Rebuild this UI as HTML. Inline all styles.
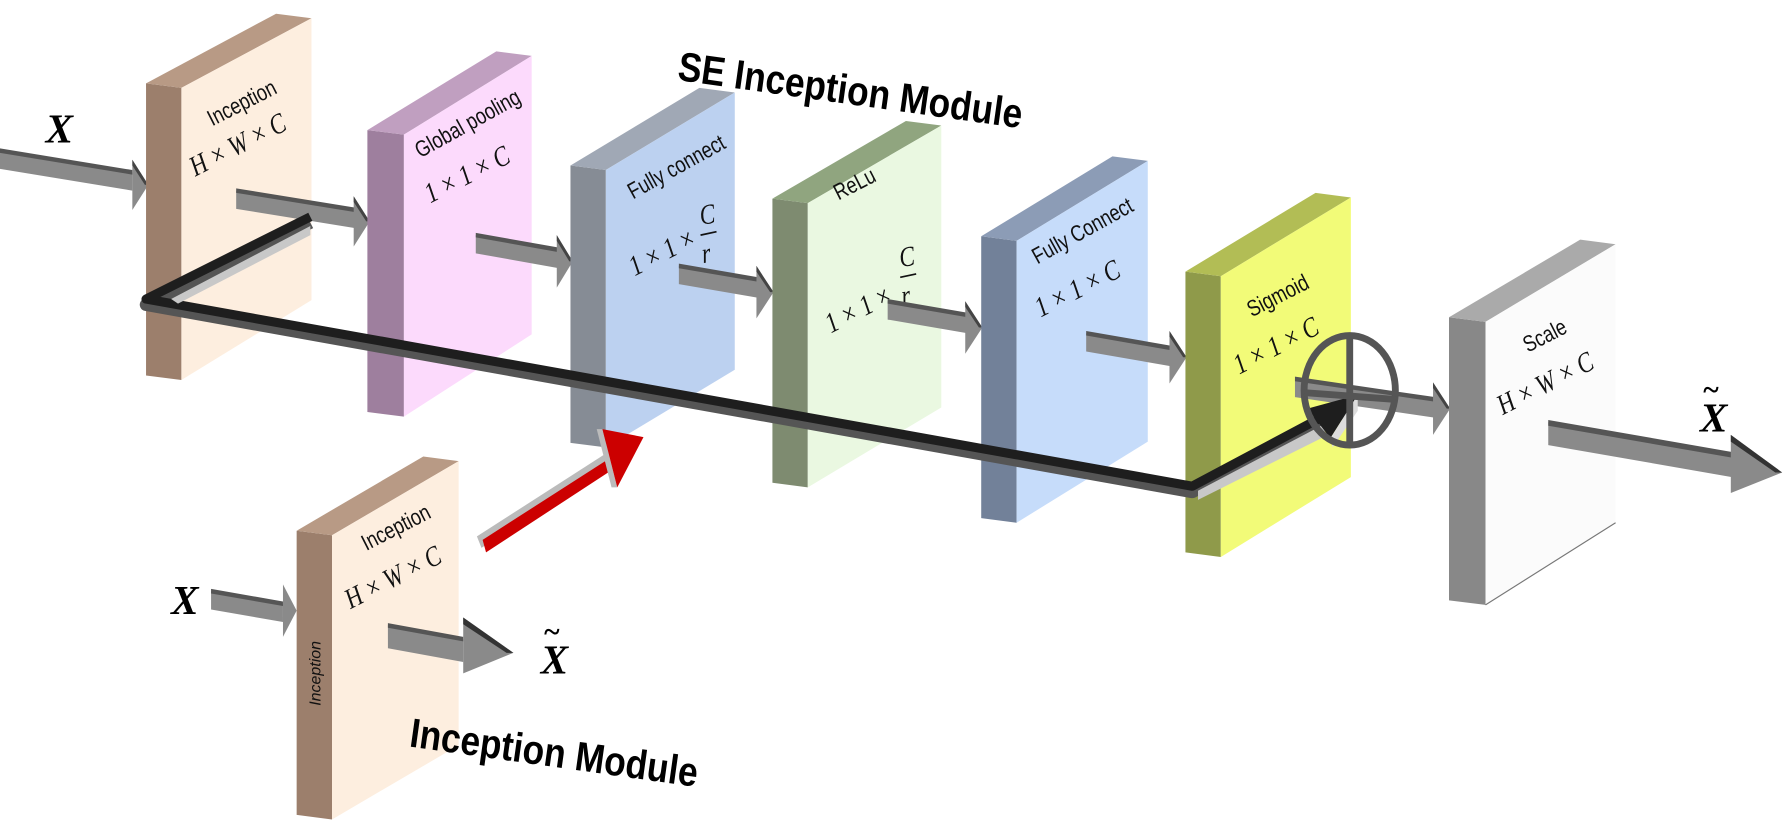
<!DOCTYPE html>
<html><head><meta charset="utf-8"><style>
html,body{margin:0;padding:0;background:#fff;}
svg{display:block}
.lb{font-family:"Liberation Sans Narrow","Liberation Sans",sans-serif;font-size:20px;fill:#111}
.mt{font-family:"Liberation Serif",serif;font-style:italic;font-size:25px;fill:#111}
.big{font-family:"Liberation Sans",sans-serif;font-weight:bold;font-size:36px;fill:#000}
.X{font-family:"Liberation Serif",serif;font-style:italic;font-weight:bold;font-size:36px;fill:#000}
</style></head><body>
<svg width="1789" height="840" viewBox="0 0 1568 736" preserveAspectRatio="none" xmlns="http://www.w3.org/2000/svg">

<!-- Input arrow X -->
<polygon points="0,132 116,151 116,167 0,148" fill="#8a8a8a"/>
<polygon points="0,130 116,149 116,153 0,134" fill="#555"/>
<polygon points="116,140 130,162 116,184" fill="#8a8a8a"/>
<polygon points="116,140 130,162 127,162 116,145" fill="#444"/>

<!-- Inception 1 -->
<polygon points="128,73 159,77 159,333 128,329" fill="#9c7f6c"/>
<polygon points="128,73 242,12 273,16 159,77" fill="#b89a85"/>
<polygon points="159,77 273,16 273,263 159,333" fill="#fdeedf"/>
<text class="lb" transform="translate(215,96) rotate(-27) scale(0.8,1)" text-anchor="middle">Inception</text>
<text class="mt" transform="translate(212,134) rotate(-27) scale(0.8,1)" text-anchor="middle">H × W × C</text>

<!-- arrow 2 -->
<polygon points="207,167 312,184 312,200 207,183" fill="#8a8a8a"/>
<polygon points="207,165 312,182 312,186 207,169" fill="#555"/>
<polygon points="310,172 324,194 310,216" fill="#8a8a8a"/>
<polygon points="310,172 324,194 321,194 310,177" fill="#444"/>

<!-- Global pooling -->
<polygon points="322,114 354,118 354,365 322,361" fill="#9e7f9e"/>
<polygon points="322,114 435,45 466,49 354,118" fill="#c09fc0"/>
<polygon points="354,118 466,49 466,293 354,365" fill="#fcdafc"/>
<text class="lb" transform="translate(413,114) rotate(-29) scale(0.8,1)" text-anchor="middle">Global pooling</text>
<text class="mt" transform="translate(413,160) rotate(-27) scale(0.8,1)" text-anchor="middle">1 × 1 × C</text>

<!-- arrow 3 -->
<polygon points="417,206 490,219 490,235 417,222" fill="#8a8a8a"/>
<polygon points="417,204 490,217 490,221 417,208" fill="#555"/>
<polygon points="488,206 502,229 488,252" fill="#8a8a8a"/>
<polygon points="488,206 502,229 499,229 488,211" fill="#444"/>

<!-- FC1 -->
<polygon points="500,145 531,149 531,392 500,388" fill="#868c95"/>
<polygon points="500,145 613,77 644,81 531,149" fill="#a0a8b5"/>
<polygon points="531,149 644,81 644,324 531,392" fill="#bcd1f0"/>
<text class="lb" transform="translate(596,152) rotate(-29) scale(0.8,1)" text-anchor="middle">Fully connect</text>
<text class="mt" transform="translate(584,228) rotate(-27) scale(0.8,1)" text-anchor="middle">1 × 1 ×</text>
<text class="mt" transform="translate(621,196) rotate(-8) scale(0.8,1)" text-anchor="middle">C</text>
<line x1="614" y1="206" x2="628" y2="203" stroke="#111" stroke-width="1.5"/>
<text class="mt" transform="translate(620,230) rotate(-8) scale(0.8,1)" text-anchor="middle">r</text>

<!-- arrow 4 -->
<polygon points="595,233 665,245 665,261 595,249" fill="#8a8a8a"/>
<polygon points="595,231 665,243 665,247 595,235" fill="#555"/>
<polygon points="663,233 678,256 663,279" fill="#8a8a8a"/>
<polygon points="663,233 678,256 675,256 663,238" fill="#444"/>

<!-- ReLu -->
<polygon points="677,174 708,178 708,427 677,423" fill="#7e8b70"/>
<polygon points="677,174 794,106 825,110 708,178" fill="#90a57f"/>
<polygon points="708,178 825,110 825,357 708,427" fill="#eaf8e1"/>
<text class="lb" transform="translate(752,167) rotate(-27) scale(0.8,1)" text-anchor="middle">ReLu</text>
<text class="mt" transform="translate(756,278) rotate(-27) scale(0.8,1)" text-anchor="middle">1 × 1 ×</text>
<text class="mt" transform="translate(796,233) rotate(-8) scale(0.8,1)" text-anchor="middle">C</text>
<line x1="789" y1="243" x2="803" y2="240" stroke="#111" stroke-width="1.5"/>
<text class="mt" transform="translate(795,267) rotate(-8) scale(0.8,1)" text-anchor="middle">r</text>

<!-- arrow 5 -->
<polygon points="778,264 848,276 848,292 778,280" fill="#8a8a8a"/>
<polygon points="778,262 848,274 848,278 778,266" fill="#555"/>
<polygon points="846,264 861,287 846,310" fill="#8a8a8a"/>
<polygon points="846,264 861,287 858,287 846,269" fill="#444"/>

<!-- FC2 -->
<polygon points="860,207 891,211 891,458 860,454" fill="#728199"/>
<polygon points="860,207 975,137 1006,141 891,211" fill="#8c9cb6"/>
<polygon points="891,211 1006,141 1006,387 891,458" fill="#c6dcfa"/>
<text class="lb" transform="translate(952,208) rotate(-29) scale(0.8,1)" text-anchor="middle">Fully Connect</text>
<text class="mt" transform="translate(948,260) rotate(-27) scale(0.8,1)" text-anchor="middle">1 × 1 × C</text>

<!-- arrow 6 -->
<polygon points="952,292 1027,305 1027,321 952,308" fill="#8a8a8a"/>
<polygon points="952,290 1027,303 1027,307 952,294" fill="#555"/>
<polygon points="1025,290 1040,313 1025,336" fill="#8a8a8a"/>
<polygon points="1025,290 1040,313 1037,313 1025,295" fill="#444"/>

<!-- Sigmoid -->
<polygon points="1039,238 1070,242 1070,488 1039,484" fill="#8f9a4a"/>
<polygon points="1039,238 1153,169 1184,173 1070,242" fill="#b2bd55"/>
<polygon points="1070,242 1184,173 1184,418 1070,488" fill="#f2fb78"/>
<text class="lb" transform="translate(1123,265) rotate(-27) scale(0.8,1)" text-anchor="middle">Sigmoid</text>
<text class="mt" transform="translate(1122,310) rotate(-27) scale(0.8,1)" text-anchor="middle">1 × 1 × C</text>

<!-- arrow 7 through circle -->
<polygon points="1135,332 1258,350 1258,366 1135,348" fill="#8a8a8a"/>
<polygon points="1135,330 1258,348 1258,352 1135,334" fill="#555"/>
<polygon points="1256,335 1271,358 1256,381" fill="#8a8a8a"/>
<polygon points="1256,335 1271,358 1268,358 1256,340" fill="#444"/>

<!-- Scale -->
<polygon points="1270,278 1302,282 1302,530 1270,526" fill="#888"/>
<polygon points="1270,278 1385,210 1416,214 1302,282" fill="#aaa"/>
<polygon points="1302,282 1416,214 1416,458 1302,530" fill="#fbfbfb"/>
<line x1="1302" y1="530" x2="1416" y2="458" stroke="#777" stroke-width="1"/>
<text class="lb" transform="translate(1357,300) rotate(-27) scale(0.8,1)" text-anchor="middle">Scale</text>
<text class="mt" transform="translate(1358,343) rotate(-27) scale(0.8,1)" text-anchor="middle">H × W × C</text>

<!-- output arrow -->
<polygon points="1357,370 1518,398 1518,418 1357,390" fill="#8a8a8a"/>
<polygon points="1357,368 1518,396 1518,401 1357,373" fill="#555"/>
<polygon points="1517,381 1562,414 1517,432" fill="#8a8a8a"/>
<polygon points="1517,381 1562,414 1556,414 1517,387" fill="#333"/>
<text class="X" x="1490" y="378">X</text>
<text class="X" x="1492" y="350" style="font-size:26px">~</text>

<!-- Skip black line -->
<polyline points="272,190 128,262 1045,426 1184,352" fill="none" stroke="#555" stroke-width="11" stroke-linejoin="round" transform="translate(0,5)"/>
<polyline points="272,190 128,262 1045,426 1184,352" fill="none" stroke="#1e1e1e" stroke-width="8" stroke-linejoin="round"/>
<polygon points="150,262 272,198 272,206 156,266" fill="#c8c8c8"/>
<polygon points="1050,430 1160,372 1162,382 1050,438" fill="#c8c8c8"/>
<polygon points="1146,358 1190,346 1166,384" fill="#1e1e1e"/>
<polygon points="1166,384 1190,346 1190,360 1168,392" fill="#ddd"/>

<!-- circle -->
<ellipse cx="1183" cy="342" rx="40" ry="48" fill="none" stroke="#555" stroke-width="6"/>
<line x1="1183" y1="294" x2="1183" y2="390" stroke="#555" stroke-width="6"/>
<line x1="1143" y1="344" x2="1223" y2="350" stroke="#555" stroke-width="6"/>

<!-- SE title -->
<text class="big" transform="translate(593,70) rotate(8) scale(0.86,1)">SE Inception Module</text>

<!-- Inception 2 -->
<polygon points="185,518 248,529 248,545 185,534" fill="#8a8a8a"/>
<polygon points="185,516 248,527 248,531 185,520" fill="#555"/>
<polygon points="248,512 260,535 248,558" fill="#8a8a8a"/>
<text class="X" x="150" y="538">X</text>

<polygon points="260,465 291,469 291,718 260,714" fill="#9c7f6c"/>
<polygon points="260,465 371,400 402,404 291,469" fill="#b89a85"/>
<polygon points="291,469 402,404 402,653 291,718" fill="#fdeedf"/>
<text class="lb" transform="translate(350,468) rotate(-27) scale(0.8,1)" text-anchor="middle">Inception</text>
<text class="mt" transform="translate(348,513) rotate(-27) scale(0.8,1)" text-anchor="middle">H × W × C</text>
<text class="lb" transform="translate(281,590) rotate(-90)" text-anchor="middle" style="font-size:14px;font-style:italic">Inception</text>

<polygon points="340,548 406,560 406,580 340,568" fill="#8a8a8a"/>
<polygon points="340,546 406,558 406,562 340,550" fill="#555"/>
<polygon points="406,541 450,572 406,590" fill="#8a8a8a"/>
<polygon points="406,541 450,572 444,572 406,547" fill="#333"/>
<text class="X" x="474" y="590">X</text>
<text class="X" x="476" y="562" style="font-size:26px">~</text>

<text class="big" transform="translate(358,654) rotate(8) scale(0.86,1)">Inception Module</text>

<!-- red arrow -->
<polygon points="418,470 530,398 534,406 422,480" fill="#bbb"/>
<polygon points="423,473 532,403 536,412 426,484" fill="#cc0000"/>
<polygon points="523,376 528,376 541,427 536,427" fill="#bbb"/>
<polygon points="528,376 564,383 541,427" fill="#cc0000"/>

<!-- input X label -->
<text class="X" x="40" y="125">X</text>
</svg>
</body></html>
